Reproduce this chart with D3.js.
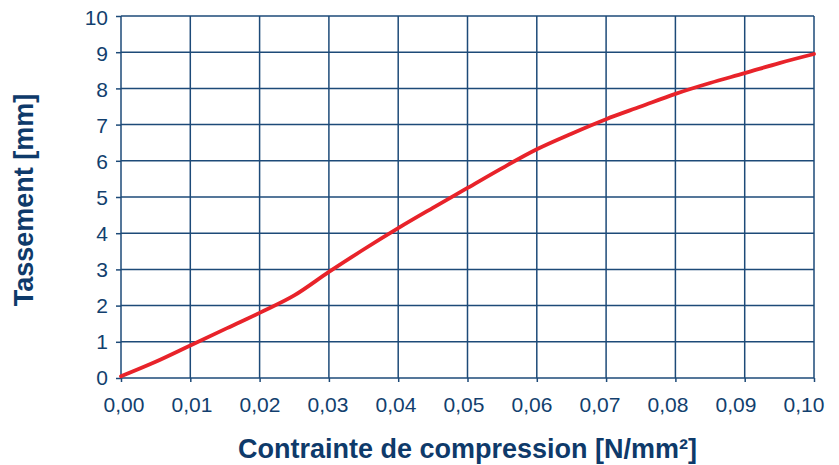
<!DOCTYPE html>
<html>
<head>
<meta charset="utf-8">
<style>
  html, body { margin: 0; padding: 0; background: #fff; }
  .axis text { font: 21px "Liberation Sans", Arial, sans-serif; fill: #123f6e; }
  .axis path, .axis line { stroke: #1d4a78; stroke-width: 1.5; }
  .grid line { stroke: #1d4a78; stroke-width: 1.5; }
  .title { font: bold 27px "Liberation Sans", Arial, sans-serif; fill: #0e3a6a; }
</style>
</head>
<body>
<svg id="chart" width="839" height="465"></svg>
<script src="https://d3js.org/d3.v7.min.js"></script>
<script>

var stress = [0, 0.005, 0.01, 0.015, 0.02, 0.025, 0.03, 0.035, 0.04, 0.045, 0.05,
              0.055, 0.06, 0.065, 0.07, 0.075, 0.08, 0.085, 0.09, 0.095, 0.10];
var settlement = [0.05, 0.45, 0.9, 1.35, 1.8, 2.28, 2.93, 3.55, 4.14, 4.7, 5.25,
                  5.8, 6.32, 6.75, 7.15, 7.5, 7.85, 8.15, 8.42, 8.7, 8.95];
var xTicks = [0, 0.01, 0.02, 0.03, 0.04, 0.05, 0.06, 0.07, 0.08, 0.09, 0.10];
var yTicks = [0, 1, 2, 3, 4, 5, 6, 7, 8, 9, 10];

var margin = {top: 16, right: 25, bottom: 87, left: 121},
    width = 839 - margin.left - margin.right,
    height = 465 - margin.top - margin.bottom;

var svg = d3.select("#chart")
  .append("g")
    .attr("transform", "translate(" + margin.left + "," + margin.top + ")");

var x = d3.scaleLinear().domain([0, 0.10]).range([0, width]);
var y = d3.scaleLinear().domain([0, 10]).range([height, 0]);

// the labels in the original sit on a slightly narrower spacing than the grid
var xLab = d3.scaleLinear().domain([0, 0.10]).range([2.5, width - 10.5]);
var yLab = d3.scaleLinear().domain([0, 10]).range([height, 2]);

var fmt = function(d) { return d3.format(".2f")(d).replace(".", ","); };

// grid
svg.append("g").attr("class", "grid")
  .selectAll("line.v").data(xTicks).enter().append("line")
    .attr("x1", function(d) { return x(d); }).attr("x2", function(d) { return x(d); })
    .attr("y1", 0).attr("y2", height);
svg.append("g").attr("class", "grid")
  .selectAll("line.h").data(yTicks).enter().append("line")
    .attr("y1", function(d) { return y(d); }).attr("y2", function(d) { return y(d); })
    .attr("x1", 0).attr("x2", width);

// tick marks
svg.append("g")
    .attr("class", "axis")
    .attr("transform", "translate(0," + height + ")")
    .call(d3.axisBottom(x).tickValues(xTicks).tickFormat("").tickSize(4).tickSizeOuter(0))
  .select(".domain").remove();
svg.append("g")
    .attr("class", "axis")
    .call(d3.axisLeft(y).tickValues(yTicks).tickFormat("").tickSize(5).tickSizeOuter(0))
  .select(".domain").remove();

// tick labels
svg.append("g")
    .attr("class", "axis")
    .attr("transform", "translate(0," + height + ")")
    .call(d3.axisBottom(xLab).tickValues(xTicks).tickFormat(fmt).tickSize(0).tickPadding(19))
  .select(".domain").remove();
svg.append("g")
    .attr("class", "axis")
    .call(d3.axisLeft(yLab).tickValues(yTicks).tickSize(0).tickPadding(13))
  .select(".domain").remove();

var line = d3.line()
    .x(function(d, i) { return x(stress[i]); })
    .y(function(d) { return y(d); })
    .curve(d3.curveMonotoneX);

svg.append("path")
    .datum(settlement)
    .attr("fill", "none")
    .attr("stroke", "#e8232a")
    .attr("stroke-width", 3.8)
    .attr("stroke-linecap", "round")
    .attr("d", line);

svg.append("text")
    .attr("class", "title")
    .attr("text-anchor", "middle")
    .attr("x", width / 2)
    .attr("y", height + 80)
    .text("Contrainte de compression [N/mm²]");

svg.append("text")
    .attr("class", "title")
    .attr("text-anchor", "middle")
    .attr("transform", "translate(-88," + (height / 2 + 3) + ") rotate(-90)")
    .text("Tassement [mm]");

</script>
</body>
</html>
